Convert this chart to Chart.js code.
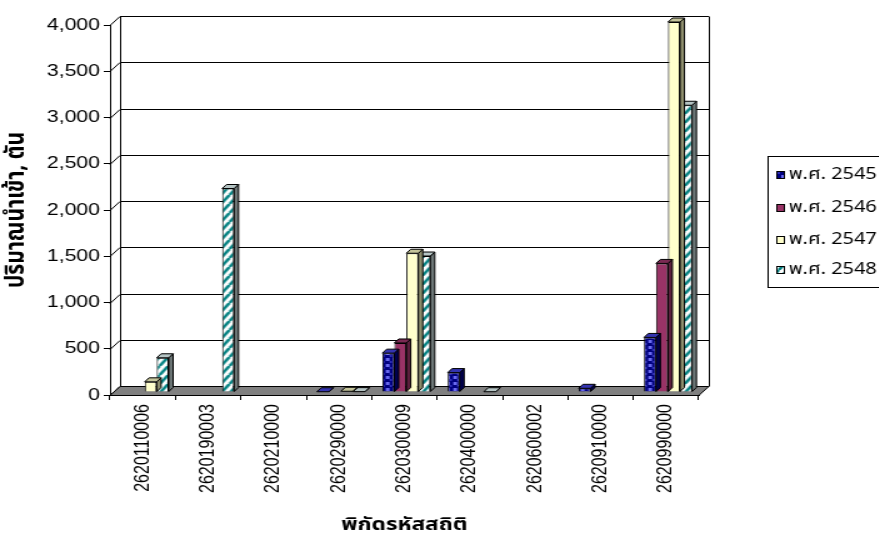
<!DOCTYPE html>
<html>
<head>
<meta charset="utf-8">
<script src="https://cdn.jsdelivr.net/npm/chart.js@4.4.1/dist/chart.umd.min.js"></script>
<style>
  html, body { margin: 0; padding: 0; background: #fff; overflow: hidden; }
  #wrap { width: 879px; height: 540px; overflow: hidden; }
  /* the whole chart is drawn horizontally widened */
  #c { transform: scaleX(1.25); transform-origin: 0 0; display: block; }
</style>
</head>
<body>
<div id="wrap"><canvas id="c" width="703" height="540"></canvas></div>
<script>
// ---- data ----
const categories = ['2620110006', '2620190003', '2620210000', '2620290000', '2620300009',
                    '2620400000', '2620600002', '2620910000', '2620990000'];
const seriesNames = ['พ.ศ. 2545', 'พ.ศ. 2546', 'พ.ศ. 2547', 'พ.ศ. 2548'];
const imports2545 = [null, null, null, 3, 420, 210, null, 40, 590];
const imports2546 = [null, null, null, null, 530, null, null, null, 1390];
const imports2547 = [110, null, null, 8, 1500, null, null, null, 4000];
const imports2548 = [370, 2200, null, 4, 1470, 3, null, null, 3100];
const yMax = 4000;
const yStep = 500;
const yTitle = 'ปริมาณนำเข้า, ตัน';
const xTitle = 'พิกัดรหัสสถิติ';

// ---- styling ----
const THAI_FONT = "Tahoma, 'Noto Sans Thai', 'Loma', 'Garuda', 'Liberation Sans', sans-serif";
const NUM_FONT = "'Liberation Sans', Arial, sans-serif";
const WALL_DX = 8, WALL_DY = 9;      // depth of the back wall / floor
const BAR_DX = 3.5, BAR_DY = 4;      // depth of each column
const BAR_SHIFT_X = 1.6, BAR_SHIFT_Y = -3; // columns stand midway on the floor

function makePattern(w, h, paint) {
  const c = document.createElement('canvas');
  c.width = w; c.height = h;
  const g = c.getContext('2d');
  paint(g, w, h);
  return g.createPattern(c, 'repeat');
}

const bluePattern = makePattern(6, 6, (g, w, h) => {
  g.fillStyle = '#000080'; g.fillRect(0, 0, w, h);
  g.fillStyle = '#6A6AF0'; g.fillRect(1, 1, 3, 3);
  g.fillStyle = '#2E2EB8'; g.fillRect(4, 4, 2, 2);
});
const tealPattern = makePattern(7, 9, (g, w, h) => {
  g.fillStyle = '#FFFFFF'; g.fillRect(0, 0, w, h);
  g.strokeStyle = '#008080'; g.lineWidth = 2.6;
  for (const off of [-w, 0, w]) {
    g.beginPath(); g.moveTo(off, h); g.lineTo(off + w, 0); g.stroke();
  }
});

const seriesStyle = [
  { front: bluePattern, swatch: bluePattern, side: '#000050', top: '#3434B0' },
  { front: '#993366',   swatch: '#993366',   side: '#5C1F3D', top: '#7A2952' },
  { front: '#FFFFCC',   swatch: '#FFFFCC',   side: '#8F8F6E', top: '#C4C49A' },
  { front: tealPattern, swatch: tealPattern, side: '#6E7878', top: '#B5C4C4' }
];
const seriesData = [imports2545, imports2546, imports2547, imports2548];

// back wall, left wall, grid lines and floor
const wallsPlugin = {
  id: 'walls',
  beforeDraw(chart) {
    const { ctx, chartArea: a, scales: { y } } = chart;
    const L = a.left, R = a.right, B = a.bottom;
    ctx.save();
    ctx.fillStyle = '#fff';
    ctx.fillRect(0, 0, chart.width, chart.height);
    ctx.strokeStyle = '#000';
    ctx.lineWidth = 1;
    y.ticks.forEach(t => {
      const py = Math.round(y.getPixelForValue(t.value)) + 0.5;
      ctx.beginPath();
      ctx.moveTo(L, py);
      ctx.lineTo(L + WALL_DX, py - WALL_DY);
      ctx.lineTo(R + WALL_DX, py - WALL_DY);
      ctx.stroke();
    });
    const topY = Math.round(y.getPixelForValue(yMax)) + 0.5 - WALL_DY;
    const botY = Math.round(y.getPixelForValue(0)) + 0.5 - WALL_DY;
    ctx.beginPath();
    ctx.moveTo(Math.round(L + WALL_DX) + 0.5, topY);
    ctx.lineTo(Math.round(L + WALL_DX) + 0.5, botY);
    ctx.moveTo(Math.round(R + WALL_DX) + 0.5, topY);
    ctx.lineTo(Math.round(R + WALL_DX) + 0.5, botY);
    ctx.stroke();
    // floor
    const fb = Math.round(B) + 0.5;
    ctx.fillStyle = '#808080';
    ctx.beginPath();
    ctx.moveTo(L, fb);
    ctx.lineTo(R, fb);
    ctx.lineTo(R + WALL_DX, fb - WALL_DY);
    ctx.lineTo(L + WALL_DX, fb - WALL_DY);
    ctx.closePath();
    ctx.fill();
    ctx.stroke();
    ctx.restore();
  }
};

// columns get a side and a top face
const columnsPlugin = {
  id: 'columns3d',
  beforeDatasetsDraw(chart) {
    chart.ctx.save();
    chart.ctx.translate(BAR_SHIFT_X, BAR_SHIFT_Y);
  },
  afterDatasetDraw(chart, args) {
    const { ctx } = chart;
    const meta = args.meta;
    const st = seriesStyle[args.index];
    ctx.save();
    ctx.strokeStyle = '#000';
    ctx.lineWidth = 1;
    meta.data.forEach((bar, i) => {
      const v = chart.data.datasets[args.index].data[i];
      if (v === null || v === undefined) return;
      const { x, y, base, width } = bar.getProps(['x', 'y', 'base', 'width'], true);
      const l = x - width / 2, r = x + width / 2;
      // side
      ctx.fillStyle = st.side;
      ctx.beginPath();
      ctx.moveTo(r, y);
      ctx.lineTo(r + BAR_DX, y - BAR_DY);
      ctx.lineTo(r + BAR_DX, base - BAR_DY);
      ctx.lineTo(r, base);
      ctx.closePath();
      ctx.fill(); ctx.stroke();
      // top
      ctx.fillStyle = st.top;
      ctx.beginPath();
      ctx.moveTo(l, y);
      ctx.lineTo(l + BAR_DX, y - BAR_DY);
      ctx.lineTo(r + BAR_DX, y - BAR_DY);
      ctx.lineTo(r, y);
      ctx.closePath();
      ctx.fill(); ctx.stroke();
    });
    ctx.restore();
  },
  afterDatasetsDraw(chart) {
    chart.ctx.restore();
  }
};

// boxed legend on the right
const legendPlugin = {
  id: 'boxLegend',
  afterDraw(chart) {
    const { ctx } = chart;
    const box = { left: 614, top: 156, width: 120, height: 131 };
    const rowY = [175, 208, 240, 270];
    ctx.save();
    ctx.strokeStyle = '#000';
    ctx.lineWidth = 1;
    ctx.strokeRect(box.left + 0.5, box.top + 0.5, box.width, box.height);
    ctx.font = '16px ' + THAI_FONT;
    ctx.textBaseline = 'middle';
    ctx.textAlign = 'left';
    chart.data.datasets.forEach((ds, i) => {
      const cy = rowY[i];
      ctx.fillStyle = seriesStyle[i].swatch;
      ctx.fillRect(621, cy - 4, 7, 8);
      ctx.strokeRect(621.5, cy - 3.5, 6, 7);
      ctx.fillStyle = '#000';
      ctx.fillText(ds.label, 631, cy + 1);
    });
    ctx.restore();
  }
};

new Chart(document.getElementById('c'), {
  type: 'bar',
  data: {
    labels: categories,
    datasets: seriesNames.map((name, i) => ({
      label: name,
      data: seriesData[i],
      backgroundColor: seriesStyle[i].front,
      borderColor: '#000',
      borderWidth: 1,
      categoryPercentage: 0.735,
      barPercentage: 1.0
    }))
  },
  options: {
    responsive: false,
    animation: false,
    events: [],
    layout: { padding: { top: 25, right: 144, left: 0, bottom: 0 } },
    plugins: {
      legend: { display: false },
      tooltip: { enabled: false },
      title: { display: false }
    },
    scales: {
      x: {
        offset: true,
        grid: { display: true, drawOnChartArea: false, tickLength: 5, color: '#000', offset: true },
        border: { display: true, color: '#000' },
        ticks: {
          minRotation: 90, maxRotation: 90, autoSkip: false, padding: 4,
          color: '#000', font: { family: NUM_FONT, size: 16 }
        },
        title: {
          display: true, text: xTitle, color: '#000',
          font: { family: THAI_FONT, size: 18, weight: 'bold' },
          padding: { top: 0, bottom: 3 }
        },
        afterFit(s) { s.height = 145; }
      },
      y: {
        min: 0, max: yMax,
        grid: { display: true, drawOnChartArea: false, tickLength: 5, color: '#000' },
        border: { display: true, color: '#000' },
        ticks: {
          stepSize: yStep, padding: 3, color: '#000',
          font: { family: NUM_FONT, size: 17 }
        },
        title: {
          display: true, text: yTitle, color: '#000',
          font: { family: THAI_FONT, size: 21, weight: 'bold' },
          padding: { top: 2, bottom: 0 }
        },
        afterFit(s) { s.width = 88; }
      }
    }
  },
  plugins: [wallsPlugin, columnsPlugin, legendPlugin]
});
</script>
</body>
</html>
